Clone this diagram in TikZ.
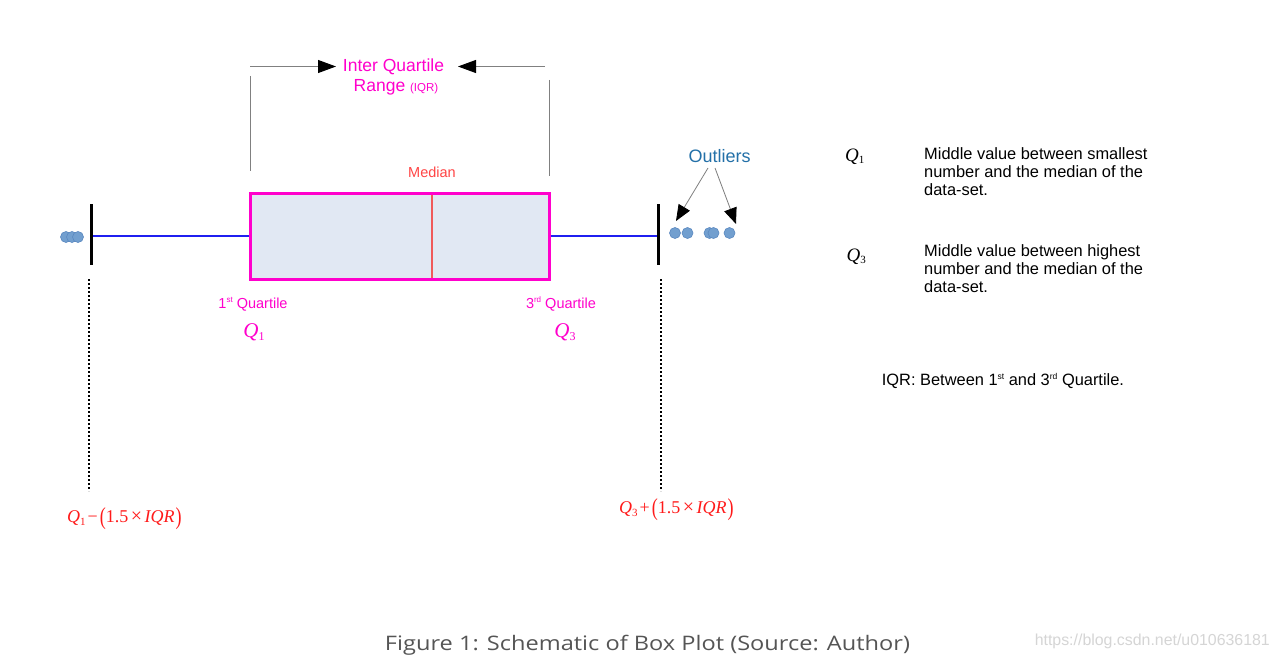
\documentclass[tikz,border=0pt]{standalone}
\usepackage{fontspec}
\setmainfont{Liberation Sans}
\newfontfamily\serifit{Liberation Serif}
\newfontfamily\capfont{Open Sans}
\usetikzlibrary{arrows.meta}
\definecolor{mag}{HTML}{FF00CC}
\definecolor{boxfill}{HTML}{E1E8F3}
\definecolor{medred}{HTML}{F05A5A}
\definecolor{medtxt}{HTML}{FF4545}
\definecolor{whisk}{HTML}{1F1FF0}
\definecolor{dotfill}{HTML}{729FCF}
\definecolor{dotline}{HTML}{5A88C0}
\definecolor{outtxt}{HTML}{2370A8}
\definecolor{brk}{HTML}{808080}
\definecolor{capgray}{HTML}{555555}
\definecolor{wmgray}{HTML}{D5D5D5}
\definecolor{fred}{HTML}{FF1A1A}
\newcommand\fsz[2]{\fontsize{#1pt}{#2pt}\selectfont}
\newcommand\supx[3]{\raisebox{#2}{\fontsize{#1pt}{#1pt}\selectfont #3}}
\newcommand\qlab[3]{{\serifit\itshape Q}\raisebox{-#2}{\serifit\fontsize{#1pt}{#1pt}\selectfont #3}}
\newcommand\bigpar[1]{\raisebox{-2pt}{\scalebox{1}[1.35]{#1}}}
\begin{document}
\begin{tikzpicture}[x=1pt,y=-1pt,
  lbl/.style={inner sep=0pt, anchor=base},
  lblw/.style={inner sep=0pt, anchor=base west},
  brkline/.style={draw=brk, line width=1pt},
  bigtip/.style={-{Triangle[length=18pt,width=13pt,color=black]}},
  outtip/.style={-{Triangle[length=16pt,width=13pt,color=black]}},
  capline/.style={draw=black, line width=3pt},
  dotline2/.style={draw=black, line width=2.2pt, dash pattern=on 2pt off 2pt},
  whiskline/.style={draw=whisk, line width=1.6pt},
  dotst/.style={fill=dotfill, draw=dotline, line width=0.6pt}
]
\useasboundingbox[fill=white] (0,0) rectangle (1276,658);

% IQR bracket
\coordinate (hL0) at (250,66.5); \coordinate (hL1) at (336,66.5);
\coordinate (hR0) at (545,66.5); \coordinate (hR1) at (458,66.5);
\coordinate (vL0) at (250.5,76); \coordinate (vL1) at (250.5,171);
\coordinate (vR0) at (549,80); \coordinate (vR1) at (549,176);
\draw[brkline,bigtip] (hL0) -- (hL1);
\draw[brkline,bigtip] (hR0) -- (hR1);
\draw[brkline] (vL0) -- (vL1);
\draw[brkline] (vR0) -- (vR1);
\node[lbl,text=mag] (iqr1) at (393.5,72) {\fsz{17.5}{20}Inter Quartile};
\node[lbl,text=mag] (iqr2) at (396,92) {\fsz{17.5}{20}Range {\fsz{11.5}{13}(IQR)}};

% box
\node[draw=mag, line width=3pt, fill=boxfill, minimum width=299pt, minimum height=86pt, inner sep=0pt] (box) at (400,236) {};
\coordinate (mdT) at (432,194.5); \coordinate (mdB) at (432,277.5);
\draw[medred, line width=1.6pt] (mdT) -- (mdB);
\node[lbl,text=medtxt] (med) at (432,177) {\fsz{14.5}{17}Median};

% whiskers
\coordinate (capL) at (91,236); \coordinate (capR) at (658,236);
\draw[whiskline] (capL) -- (box.west);
\draw[whiskline] (box.east) -- (capR);
\coordinate (cLt) at (91,204); \coordinate (cLb) at (91,265);
\coordinate (cRt) at (658,204); \coordinate (cRb) at (658,265);
\draw[capline] (cLt) -- (cLb);
\draw[capline] (cRt) -- (cRb);
\coordinate (dLt) at (89,279); \coordinate (dLb) at (89,491);
\coordinate (dRt) at (661,279); \coordinate (dRb) at (661,491);
\draw[dotline2] (dLt) -- (dLb);
\draw[dotline2] (dRt) -- (dRb);

% outlier dots
\foreach \x in {66,72,78} \draw[dotst] (\x,237) circle[radius=5.5pt];
\foreach \x in {675,687.5,709.5,713.5,729.5} \draw[dotst] (\x,233) circle[radius=5.5pt];

\node[lbl,text=outtxt] (out) at (719.5,162) {\fsz{18}{20}Outliers};
\coordinate (oa0) at (708,168); \coordinate (oa1) at (676,221);
\coordinate (ob0) at (715,168); \coordinate (ob1) at (736,224);
\draw[brkline,line width=0.8pt,outtip] (oa0) -- (oa1);
\draw[brkline,line width=0.8pt,outtip] (ob0) -- (ob1);

% quartile labels
\node[lbl,text=mag] (q1t) at (253,308) {\fsz{14.5}{17}1\supx{8}{5.5pt}{st} Quartile};
\node[lbl,text=mag] (q3t) at (561,308) {\fsz{14.5}{17}3\supx{8}{5.5pt}{rd} Quartile};
\node[lbl,text=mag] (q1m) at (254,337) {\fsz{21}{24}\qlab{12}{3pt}{1}};
\node[lbl,text=mag] (q3m) at (565,337) {\fsz{21}{24}\qlab{12}{3pt}{3}};

% right descriptions
\node[lblw] (rq1) at (845,161) {\fsz{19}{21}\qlab{11}{2.5pt}{1}};
\node[lblw] (rd1) at (924,159) {\fsz{16.4}{18}\begin{tabular}[t]{@{}l@{}}Middle value between smallest\\number and the median of the\\data-set.\end{tabular}};
\node[lblw] (rq3) at (846.5,261) {\fsz{19}{21}\qlab{11}{2.5pt}{3}};
\node[lblw] (rd3) at (924,256) {\fsz{16.4}{18}\begin{tabular}[t]{@{}l@{}}Middle value between highest\\number and the median of the\\data-set.\end{tabular}};
\node[lblw] (iqrdef) at (881.7,385) {\fsz{16.4}{18}IQR: Between 1\supx{8.5}{6pt}{st} and 3\supx{8.5}{6pt}{rd} Quartile.};

% fences
\node[lblw,text=fred] (fl) at (67,522) {\serifit\fsz{18}{20}\qlab{11}{3pt}{1}\kern2pt−\kern2pt\bigpar{(}1.5\kern2.5pt{\fsz{20}{20}×}\kern2.5pt{\itshape IQR}\kern1pt\bigpar{)}};
\node[lblw,text=fred] (fr) at (619,513) {\serifit\fsz{18}{20}\qlab{11}{3pt}{3}\kern2pt+\kern2pt\bigpar{(}1.5\kern2.5pt{\fsz{20}{20}×}\kern2.5pt{\itshape IQR}\kern1pt\bigpar{)}};

% caption
\node[lbl,text=capgray] (cap) at (647.5,650) {\resizebox{525pt}{\height}{\capfont\fsz{20}{22}Figure 1: Schematic of Box Plot (Source: Author)}};
\node[inner sep=0pt, anchor=base east, text=wmgray] (wm) at (1270,645) {\resizebox{235pt}{!}{\fsz{13}{14}https://blog.csdn.net/u010636181}};
\end{tikzpicture}
\end{document}
